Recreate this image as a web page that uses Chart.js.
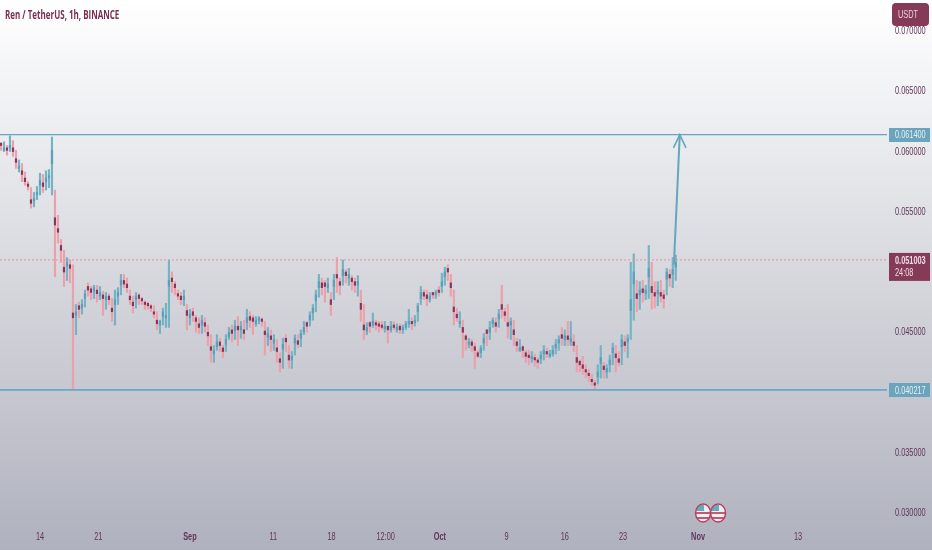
<!DOCTYPE html>
<html>
<head>
<meta charset="utf-8">
<title>Ren / TetherUS, 1h, BINANCE</title>
<script src="https://cdn.jsdelivr.net/npm/chart.js@4"></script>
<style>
  html, body { margin: 0; padding: 0; background: #fff; overflow: hidden; }
  canvas { display: block; filter: blur(0.35px); }
</style>
</head>
<body>
<canvas id="chart" width="932" height="550"></canvas>
<script>
// Bars, about one per 8.6 hours
const highs = [
  0.0607,0.0608,0.0605,0.0613,0.0609,0.0601,0.0593,0.0590,0.0583,0.0575,0.0570,0.0566,0.0571,0.0582,0.0581,0.0584,0.0585,0.0612,0.0568,0.0547,
  0.0527,0.0518,0.0512,0.0510,0.0506,0.0473,0.0475,0.0477,0.0485,0.0491,0.0488,0.0489,0.0489,0.0488,0.0484,0.0483,0.0482,0.0478,0.0485,0.0487,
  0.0498,0.0498,0.0495,0.0485,0.0480,0.0483,0.0482,0.0479,0.0476,0.0475,0.0473,0.0472,0.0467,0.0460,0.0470,0.0474,0.0510,0.0500,0.0492,0.0485,
  0.0483,0.0485,0.0473,0.0469,0.0470,0.0464,0.0462,0.0464,0.0462,0.0456,0.0448,0.0439,0.0448,0.0445,0.0439,0.0448,0.0454,0.0456,0.0460,0.0463,
  0.0459,0.0460,0.0469,0.0467,0.0464,0.0463,0.0463,0.0462,0.0459,0.0454,0.0452,0.0448,0.0444,0.0433,0.0445,0.0448,0.0439,0.0434,0.0448,0.0448,
  0.0452,0.0459,0.0459,0.0467,0.0473,0.0485,0.0498,0.0495,0.0493,0.0495,0.0483,0.0498,0.0512,0.0495,0.0510,0.0502,0.0503,0.0497,0.0495,0.0497,
  0.0485,0.0473,0.0458,0.0459,0.0466,0.0460,0.0459,0.0459,0.0459,0.0455,0.0459,0.0459,0.0457,0.0457,0.0456,0.0459,0.0469,0.0462,0.0464,0.0474,
  0.0488,0.0485,0.0485,0.0483,0.0483,0.0485,0.0488,0.0499,0.0504,0.0506,0.0498,0.0485,0.0470,0.0467,0.0460,0.0448,0.0445,0.0444,0.0441,0.0435,
  0.0439,0.0449,0.0452,0.0459,0.0462,0.0462,0.0469,0.0489,0.0470,0.0473,0.0462,0.0460,0.0445,0.0444,0.0439,0.0435,0.0435,0.0434,0.0432,0.0429,
  0.0434,0.0439,0.0437,0.0435,0.0439,0.0444,0.0447,0.0454,0.0452,0.0459,0.0459,0.0448,0.0439,0.0427,0.0430,0.0423,0.0419,0.0415,0.0410,0.0423,
  0.0439,0.0425,0.0423,0.0431,0.0441,0.0439,0.0434,0.0448,0.0447,0.0448,0.0508,0.0515,0.0493,0.0492,0.0493,0.0489,0.0522,0.0508,0.0492,0.0492,
  0.0493,0.0485,0.0503,0.0502,0.0512,0.0514
];
const lows = [
  0.0601,0.0600,0.0597,0.0600,0.0596,0.0586,0.0583,0.0575,0.0572,0.0568,0.0553,0.0554,0.0560,0.0564,0.0566,0.0568,0.0570,0.0564,0.0496,0.0524,
  0.0508,0.0488,0.0493,0.0491,0.0402,0.0448,0.0462,0.0465,0.0471,0.0480,0.0477,0.0478,0.0475,0.0477,0.0464,0.0469,0.0473,0.0459,0.0456,0.0473,
  0.0481,0.0487,0.0483,0.0473,0.0466,0.0470,0.0473,0.0473,0.0469,0.0469,0.0467,0.0462,0.0452,0.0449,0.0456,0.0454,0.0454,0.0483,0.0481,0.0477,
  0.0473,0.0472,0.0452,0.0456,0.0459,0.0450,0.0449,0.0449,0.0450,0.0439,0.0425,0.0425,0.0435,0.0434,0.0429,0.0434,0.0444,0.0442,0.0444,0.0439,
  0.0445,0.0444,0.0452,0.0454,0.0448,0.0455,0.0457,0.0455,0.0431,0.0439,0.0434,0.0435,0.0425,0.0417,0.0420,0.0434,0.0420,0.0420,0.0431,0.0437,
  0.0438,0.0448,0.0450,0.0455,0.0460,0.0467,0.0479,0.0481,0.0475,0.0483,0.0464,0.0477,0.0483,0.0481,0.0489,0.0491,0.0489,0.0485,0.0483,0.0480,
  0.0459,0.0444,0.0448,0.0450,0.0454,0.0452,0.0450,0.0452,0.0450,0.0441,0.0450,0.0452,0.0450,0.0449,0.0449,0.0452,0.0454,0.0452,0.0455,0.0459,
  0.0473,0.0477,0.0472,0.0475,0.0478,0.0478,0.0480,0.0483,0.0489,0.0493,0.0480,0.0456,0.0459,0.0454,0.0429,0.0435,0.0437,0.0434,0.0420,0.0429,
  0.0429,0.0435,0.0439,0.0444,0.0454,0.0450,0.0454,0.0462,0.0459,0.0445,0.0444,0.0439,0.0434,0.0434,0.0429,0.0425,0.0423,0.0425,0.0422,0.0420,
  0.0424,0.0427,0.0429,0.0429,0.0430,0.0432,0.0435,0.0439,0.0439,0.0439,0.0439,0.0434,0.0417,0.0417,0.0415,0.0412,0.0409,0.0406,0.0402,0.0407,
  0.0412,0.0412,0.0412,0.0417,0.0423,0.0417,0.0422,0.0423,0.0434,0.0429,0.0444,0.0460,0.0467,0.0469,0.0475,0.0477,0.0478,0.0469,0.0470,0.0472,
  0.0475,0.0470,0.0481,0.0488,0.0487,0.0493
];
const opens = [
  0.0607,0.0601,0.0603,0.0603,0.0603,0.0594,0.0586,0.0584,0.0578,0.0573,0.0560,0.0559,0.0564,0.0572,0.0574,0.0575,0.0578,0.0590,0.0545,0.0536,
  0.0522,0.0504,0.0505,0.0506,0.0466,0.0464,0.0472,0.0470,0.0478,0.0488,0.0486,0.0484,0.0485,0.0480,0.0481,0.0477,0.0480,0.0470,0.0473,0.0480,
  0.0489,0.0493,0.0490,0.0480,0.0475,0.0477,0.0481,0.0478,0.0475,0.0474,0.0472,0.0467,0.0460,0.0456,0.0463,0.0462,0.0488,0.0495,0.0490,0.0482,
  0.0480,0.0477,0.0468,0.0462,0.0467,0.0462,0.0457,0.0456,0.0458,0.0450,0.0438,0.0432,0.0438,0.0442,0.0437,0.0440,0.0446,0.0452,0.0451,0.0455,
  0.0452,0.0452,0.0458,0.0463,0.0462,0.0457,0.0460,0.0461,0.0451,0.0446,0.0447,0.0441,0.0437,0.0428,0.0436,0.0445,0.0431,0.0427,0.0441,0.0443,
  0.0445,0.0450,0.0458,0.0460,0.0466,0.0476,0.0487,0.0491,0.0491,0.0487,0.0477,0.0488,0.0498,0.0492,0.0497,0.0500,0.0495,0.0495,0.0492,0.0489,
  0.0474,0.0456,0.0451,0.0458,0.0456,0.0458,0.0457,0.0456,0.0453,0.0455,0.0452,0.0456,0.0452,0.0455,0.0452,0.0454,0.0457,0.0459,0.0458,0.0467,
  0.0478,0.0483,0.0481,0.0477,0.0483,0.0481,0.0485,0.0488,0.0496,0.0503,0.0491,0.0471,0.0465,0.0457,0.0454,0.0447,0.0440,0.0442,0.0438,0.0433,
  0.0433,0.0441,0.0452,0.0450,0.0457,0.0458,0.0461,0.0473,0.0467,0.0458,0.0456,0.0452,0.0442,0.0435,0.0438,0.0433,0.0431,0.0428,0.0429,0.0427,
  0.0428,0.0432,0.0434,0.0430,0.0432,0.0437,0.0441,0.0448,0.0444,0.0447,0.0442,0.0442,0.0429,0.0426,0.0423,0.0419,0.0416,0.0411,0.0408,0.0413,
  0.0424,0.0422,0.0417,0.0423,0.0433,0.0432,0.0428,0.0438,0.0442,0.0442,0.0468,0.0490,0.0482,0.0481,0.0486,0.0482,0.0496,0.0488,0.0483,0.0482,
  0.0483,0.0481,0.0494,0.0498,0.0498,0.0504
];
const closes = [
  0.0605,0.0603,0.0601,0.0605,0.0600,0.0591,0.0588,0.0581,0.0575,0.0571,0.0557,0.0561,0.0566,0.0576,0.0571,0.0578,0.0580,0.0601,0.0539,0.0533,
  0.0518,0.0500,0.0508,0.0503,0.0462,0.0467,0.0469,0.0473,0.0482,0.0485,0.0483,0.0487,0.0482,0.0483,0.0478,0.0480,0.0477,0.0467,0.0477,0.0483,
  0.0493,0.0490,0.0487,0.0477,0.0472,0.0480,0.0478,0.0476,0.0473,0.0472,0.0470,0.0465,0.0457,0.0459,0.0467,0.0464,0.0493,0.0492,0.0487,0.0480,
  0.0477,0.0480,0.0464,0.0465,0.0464,0.0459,0.0454,0.0460,0.0455,0.0447,0.0435,0.0435,0.0442,0.0439,0.0434,0.0444,0.0450,0.0449,0.0455,0.0452,
  0.0455,0.0449,0.0462,0.0460,0.0459,0.0460,0.0462,0.0459,0.0448,0.0449,0.0444,0.0444,0.0434,0.0425,0.0440,0.0442,0.0427,0.0430,0.0445,0.0440,
  0.0449,0.0454,0.0455,0.0464,0.0470,0.0481,0.0492,0.0487,0.0488,0.0490,0.0473,0.0493,0.0495,0.0489,0.0502,0.0497,0.0498,0.0492,0.0489,0.0492,
  0.0469,0.0452,0.0454,0.0455,0.0459,0.0456,0.0455,0.0454,0.0455,0.0452,0.0455,0.0454,0.0454,0.0452,0.0454,0.0457,0.0459,0.0457,0.0460,0.0472,
  0.0483,0.0480,0.0478,0.0480,0.0481,0.0483,0.0483,0.0492,0.0500,0.0500,0.0487,0.0467,0.0462,0.0459,0.0450,0.0444,0.0442,0.0439,0.0435,0.0430,
  0.0437,0.0445,0.0449,0.0454,0.0460,0.0455,0.0465,0.0469,0.0464,0.0455,0.0459,0.0448,0.0439,0.0437,0.0435,0.0430,0.0429,0.0430,0.0427,0.0425,
  0.0431,0.0435,0.0432,0.0432,0.0435,0.0440,0.0444,0.0445,0.0447,0.0444,0.0445,0.0439,0.0425,0.0423,0.0420,0.0417,0.0414,0.0409,0.0406,0.0417,
  0.0429,0.0419,0.0420,0.0427,0.0437,0.0429,0.0425,0.0444,0.0439,0.0445,0.0477,0.0500,0.0478,0.0485,0.0483,0.0485,0.0503,0.0483,0.0480,0.0485,
  0.0480,0.0478,0.0500,0.0495,0.0502,0.0508
];

const firstDay = -4.68;      // days from 14 Aug to the first bar
const barStep = 0.36;        // days between bars
const priceTicks = [0.03, 0.035, 0.045, 0.055, 0.06, 0.065, 0.07];
const dayTicks = [0, 7, 18, 28, 35, 41.5, 48, 56, 63, 70, 79, 91];
const dayLabels = ['14', '21', 'Sep', '11', '18', '12:00', 'Oct', '9', '16', '23', 'Nov', '13'];
const boldLabels = ['Sep', 'Oct', 'Nov'];
const dayRange = [-4.8, 101.68];
const priceRange = [0.029004, 0.072573];
const resistance = 0.0614;
const support = 0.040217;
const lastPrice = 0.051003;
// projection arrow drawn on the chart: shaft, then head
const arrowDays = [76.1, 76.8];
const arrowPrices = [0.0506, 0.0614];
const headDays = [76.05, 76.8, 77.55];
const headPrices = [0.0603, 0.0614, 0.0603];
const flagDays = [79.6, 81.4];
const flagPrice = 0.03;

const UP = '#5a9fbc';
const DOWN_WICK = '#eca0ab';
const DOWN_BODY = '#86365a';
const UP_WICK = '#74b3c4';
const TEXT = '#5f3558';
const MAROON = '#853a58';
const FONT = '"Liberation Sans", sans-serif';
const SQUEEZE = 0.64;        // the picture's text is horizontally narrow

const barDay = i => firstDay + i * barStep;
const isUp = i => closes[i] >= opens[i];

// write narrow text; x is the left edge, or the middle when centred
const narrowText = (ctx, text, x, y, font, color, centred) => {
  ctx.save();
  ctx.font = font;
  ctx.fillStyle = color;
  ctx.textBaseline = 'middle';
  ctx.textAlign = centred ? 'center' : 'left';
  ctx.translate(x, y);
  ctx.scale(SQUEEZE, 1);
  ctx.fillText(text, 0, 0);
  ctx.restore();
};

const chartBackground = {
  id: 'chartBackground',
  beforeDraw(chart) {
    const { ctx, width, height } = chart;
    const g = ctx.createLinearGradient(0, 0, 0, height);
    g.addColorStop(0, '#ffffff');
    g.addColorStop(0.2, '#eff0f3');
    g.addColorStop(0.55, '#d3d4da');
    g.addColorStop(1, '#afb1be');
    ctx.save();
    ctx.fillStyle = g;
    ctx.fillRect(0, 0, width, height);
    ctx.restore();
  }
};

const priceTag = (ctx, y, text, color) => {
  ctx.fillStyle = color;
  ctx.fillRect(889, Math.round(y) - 7, 41, 14);
  narrowText(ctx, text, 895, y + 0.5, '11.5px ' + FONT, '#e6eef2');
};

const overlays = {
  id: 'overlays',
  afterDraw(chart) {
    const { ctx } = chart;
    const x = chart.scales.x;
    const y = chart.scales.y;
    ctx.save();

    // axis labels come from the scales' own ticks
    y.ticks.forEach(t => {
      narrowText(ctx, t.value.toFixed(6), 895, y.getPixelForValue(t.value), '11.5px ' + FONT, TEXT);
    });
    x.ticks.forEach(t => {
      const label = dayLabels[dayTicks.indexOf(t.value)];
      const weight = boldLabels.includes(label) ? 'bold ' : '';
      narrowText(ctx, label, x.getPixelForValue(t.value), 537, weight + '11.5px ' + FONT, TEXT, true);
    });

    narrowText(ctx, 'Ren / TetherUS, 1h, BINANCE', 5, 15, 'bold 12.5px "Open Sans", ' + FONT, '#7a2f52');

    // currency button sits over the top tick
    ctx.fillStyle = MAROON;
    ctx.beginPath();
    ctx.roundRect(892, 3, 37, 23, 4);
    ctx.fill();
    narrowText(ctx, 'USDT', 898, 15, '11.5px ' + FONT, '#e6d3da');

    priceTag(ctx, y.getPixelForValue(resistance), resistance.toFixed(6), '#6aa5bd');
    priceTag(ctx, y.getPixelForValue(support), support.toFixed(6), '#6aa5bd');

    const py = y.getPixelForValue(lastPrice);
    ctx.fillStyle = MAROON;
    ctx.fillRect(889, py - 7, 41, 28);
    narrowText(ctx, lastPrice.toFixed(6), 895, py + 0.5, 'bold 11.5px ' + FONT, '#eedfe4');
    narrowText(ctx, '24:08', 895, py + 13, '11.5px ' + FONT, '#eedfe4');

    // two event flags
    flagDays.forEach(d => {
      const cx = x.getPixelForValue(d);
      const cy = y.getPixelForValue(flagPrice);
      ctx.beginPath();
      ctx.ellipse(cx, cy, 7.5, 9, 0, 0, Math.PI * 2);
      ctx.fillStyle = '#eef0f3';
      ctx.fill();
      ctx.save();
      ctx.clip();
      ctx.fillStyle = '#c8576f';
      ctx.fillRect(cx - 7, cy - 1, 14, 2);
      ctx.fillRect(cx - 7, cy + 4, 14, 2);
      ctx.fillStyle = '#6aa9bd';
      ctx.fillRect(cx - 7, cy - 8, 8, 6);
      ctx.restore();
      ctx.strokeStyle = '#b8405f';
      ctx.lineWidth = 1.5;
      ctx.stroke();
    });
    ctx.restore();
  }
};

new Chart(document.getElementById('chart'), {
  type: 'bar',
  data: {
    datasets: [
      {
        label: 'Wicks',
        data: highs.map((h, i) => ({ x: barDay(i), y: [lows[i], h] })),
        backgroundColor: highs.map((h, i) => (isUp(i) ? UP_WICK : DOWN_WICK)),
        barThickness: 1.5,
        grouped: false,
        order: 3
      },
      {
        label: 'Bodies',
        data: closes.map((c, i) => ({ x: barDay(i), y: [opens[i], c] })),
        backgroundColor: closes.map((c, i) => (isUp(i) ? UP : DOWN_BODY)),
        barThickness: 1.5,
        grouped: false,
        order: 2
      },
      {
        type: 'line',
        label: 'Resistance',
        data: dayRange.map(d => ({ x: d, y: resistance })),
        borderColor: '#6aa5bd',
        borderWidth: 1.2,
        pointRadius: 0,
        order: 1
      },
      {
        type: 'line',
        label: 'Support',
        data: dayRange.map(d => ({ x: d, y: support })),
        borderColor: '#68a9c6',
        borderWidth: 1.8,
        pointRadius: 0,
        order: 1
      },
      {
        type: 'line',
        label: 'Last price',
        data: dayRange.map(d => ({ x: d, y: lastPrice })),
        borderColor: '#e8929f',
        borderWidth: 1,
        borderDash: [2, 2],
        pointRadius: 0,
        order: 1
      },
      {
        type: 'line',
        label: 'Arrow',
        data: arrowDays.map((d, i) => ({ x: d, y: arrowPrices[i] })),
        borderColor: '#64a7bd',
        borderWidth: 2,
        pointRadius: 0,
        order: 0
      },
      {
        type: 'line',
        label: 'Arrow head',
        data: headDays.map((d, i) => ({ x: d, y: headPrices[i] })),
        borderColor: '#64a7bd',
        borderWidth: 1.6,
        pointRadius: 0,
        order: 0
      }
    ]
  },
  options: {
    responsive: false,
    animation: false,
    layout: { padding: 0 },
    plugins: { legend: { display: false }, tooltip: { enabled: false } },
    scales: {
      x: {
        type: 'linear',
        offset: false,
        min: dayRange[0],
        max: dayRange[1],
        grid: { display: false, offset: false },
        border: { display: false },
        afterBuildTicks: scale => { scale.ticks = dayTicks.map(value => ({ value })); },
        afterFit: scale => { scale.height = 25; scale.paddingLeft = 0; scale.paddingRight = 0; },
        ticks: { display: false, autoSkip: false, maxRotation: 0 }
      },
      y: {
        position: 'right',
        min: priceRange[0],
        max: priceRange[1],
        grid: { display: false },
        border: { display: false },
        afterBuildTicks: scale => { scale.ticks = priceTicks.map(value => ({ value })); },
        afterFit: scale => { scale.width = 45; scale.paddingTop = 0; scale.paddingBottom = 0; },
        ticks: { display: false }
      }
    }
  },
  plugins: [chartBackground, overlays]
});
</script>
</body>
</html>
